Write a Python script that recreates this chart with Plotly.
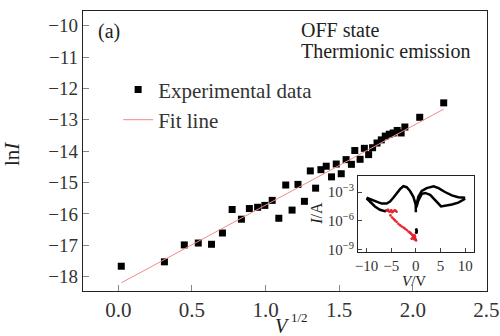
import plotly.graph_objects as go

# Main panel data: x = V^(1/2), y = ln I
exp_x = [0.02, 0.313, 0.448, 0.543, 0.633, 0.707, 0.773, 0.836, 0.89, 0.946,
         0.995, 1.045, 1.09, 1.137, 1.18, 1.22, 1.264, 1.304, 1.34, 1.376,
         1.412, 1.448, 1.48, 1.514, 1.547, 1.583, 1.606, 1.642, 1.671, 1.70,
         1.727, 1.757, 1.786, 1.813, 1.84, 1.867, 1.894, 1.921, 1.946, 2.047, 2.21]
exp_y = [-17.67, -17.53, -16.99, -16.93, -16.97, -16.61, -15.86, -16.17, -15.83, -15.79,
         -15.73, -15.57, -16.14, -15.08, -15.88, -15.06, -15.60, -14.63, -15.18, -14.59,
         -14.48, -14.82, -14.41, -14.72, -14.27, -14.42, -13.98, -14.26, -13.91, -14.11,
         -13.89, -13.74, -13.64, -13.52, -13.46, -13.42, -13.34, -13.42, -13.23, -12.92, -12.46]
fit_x = [0.02, 2.21]
fit_y = [-18.20, -12.66]
x_ticks = [0.0, 0.5, 1.0, 1.5, 2.0, 2.5]

# Inset data: V (volts), log10 I (A)
loopL_up_v = [-9.99, -8.97, -7.95, -6.94, -5.92, -5.24, -4.57, -3.89, -3.21, -2.53, -1.86, -1.18, -0.50, -0.03, 0.0]
loopL_up_l = [-3.6, -3.8, -4.0, -4.2, -4.2, -4.0, -3.6, -3.1, -2.7, -2.4, -2.5, -2.9, -3.5, -4.3, -5.1]
loopL_lo_v = [-9.99, -9.31, -8.29, -7.28, -6.26, -5.58]
loopL_lo_l = [-3.65, -4.0, -4.5, -4.85, -5.0, -4.85]
loopR_out_v = [0.1, 0.5, 1.2, 2.2, 3.6, 4.6, 5.9, 7.3, 8.6, 10.0]
loopR_out_l = [-4.4, -3.5, -2.9, -2.6, -2.4, -2.6, -3.0, -3.35, -3.55, -3.6]
loopR_ret_v = [10.0, 8.6, 7.3, 5.9, 5.1, 4.2, 2.9, 1.9, 1.2, 0.5, 0.1]
loopR_ret_l = [-3.7, -4.1, -4.3, -4.4, -4.5, -4.0, -3.3, -3.1, -3.2, -3.9, -4.6]
blk_dot_v = [0.1, 0.1, 0.15]
blk_dot_l = [-6.9, -7.2, -7.05]
red_v = [-5.9, -5.6, -5.3, -5.0, -4.6, -4.3, -3.9, -5.5, -4.8, -4.1,
         -5.14, -4.8, -4.5, -4.23, -3.9, -3.55, -3.2, -2.87, -2.5, -2.19,
         -1.85, -1.51, -1.25, -0.97, -0.75, -0.5, -0.3, -0.16, 0.04, -0.84,
         -0.6, -0.4, -0.2, -1.1, 0.0]
red_l = [-4.95, -4.85, -5.05, -4.9, -5.0, -4.9, -5.05, -5.0, -5.1, -4.95,
         -5.43, -5.65, -5.8, -5.95, -6.1, -6.30, -6.45, -6.58, -6.7, -6.82,
         -6.95, -7.10, -7.2, -7.34, -7.45, -7.58, -7.47, -7.79, -8.03, -7.86,
         -7.7, -7.9, -7.6, -7.25, -7.95]

SERIF = "Liberation Serif"

fig = go.Figure()
fig.add_trace(go.Scatter(x=exp_x, y=exp_y, mode="markers", name="Experimental data",
                         marker=dict(symbol="square", size=7, color="black")))
fig.add_trace(go.Scatter(x=fit_x, y=fit_y, mode="lines", name="Fit line",
                         line=dict(color="#f38a8a", width=1)))

ins = dict(xaxis="x2", yaxis="y2", showlegend=False)
for vv, ll in [(loopL_up_v, loopL_up_l), (loopL_lo_v, loopL_lo_l),
               (loopR_out_v, loopR_out_l), (loopR_ret_v, loopR_ret_l)]:
    fig.add_trace(go.Scatter(x=vv, y=[10 ** v for v in ll], mode="lines",
                             line=dict(color="black", width=2.5), **ins))
fig.add_trace(go.Scatter(x=blk_dot_v, y=[10 ** v for v in blk_dot_l], mode="markers",
                         marker=dict(color="black", size=3), **ins))
fig.add_trace(go.Scatter(x=red_v, y=[10 ** v for v in red_l], mode="markers",
                         marker=dict(color="#e8202a", size=2.6), **ins))

fig.update_layout(
    width=500, height=336,
    margin=dict(l=83, r=13, t=11, b=45, autoexpand=False),
    paper_bgcolor="white", plot_bgcolor="white",
    font=dict(family=SERIF, color="#222"),
    xaxis=dict(range=[-0.24, 2.504], tickvals=x_ticks, automargin=False,
               ticktext=[f"{t:.1f}" for t in x_ticks],
               ticks="inside", ticklen=6, tickcolor="#888", showgrid=False, zeroline=False,
               showline=True, linecolor="#222", linewidth=1.3, mirror=True,
               tickfont=dict(size=21, family=SERIF, color="#333")),
    yaxis=dict(range=[-18.46, -9.53], dtick=1, tick0=0, automargin=False,
               ticks="inside", ticklen=6, tickcolor="#888", showgrid=False, zeroline=False,
               showline=True, linecolor="#222", linewidth=1.3, mirror=True,
               tickfont=dict(size=19, family=SERIF, color="#333")),
    xaxis2=dict(domain=[0.681, 0.968], anchor="y2", range=[-11.7, 11.8], automargin=False,
                tickvals=[-10, -5, 0, 5, 10], ticktext=["−10", "−5", "0", "5", "10"],
                ticks="inside", ticklen=4, tickcolor="#444", showgrid=False, zeroline=False,
                showline=True, linecolor="#222", linewidth=1.2, mirror=True,
                tickfont=dict(size=15, family=SERIF, color="#333")),
    yaxis2=dict(domain=[0.139, 0.411], anchor="x2", type="log", range=[-9.24, -1.33],
                automargin=False, tickvals=[1e-3, 1e-6, 1e-9],
                ticktext=["10<sup>−3</sup>", "10<sup>−6</sup>", "10<sup>−9</sup>"],
                ticks="inside", ticklen=4, tickcolor="#444", showgrid=False, zeroline=False,
                showline=True, linecolor="#222", linewidth=1.2, mirror=True,
                tickfont=dict(size=15, family=SERIF, color="#333")),
    legend=dict(x=0.087, y=0.792, xanchor="left", yanchor="top",
                bgcolor="rgba(0,0,0,0)", font=dict(size=21, family=SERIF, color="#333"),
                tracegroupgap=0),
    showlegend=True,
)

annots = [
    dict(text="ln<i>I</i>", x=-0.175, y=0.49, textangle=-90, size=21),
    dict(text="<i>V</i>", x=0.495, y=-0.125, size=20),
    dict(text="1/2", x=0.537, y=-0.096, size=13),
    dict(text="(a)", x=0.033, y=0.925, size=20, xanchor="left"),
    dict(text="OFF state", x=0.535, y=0.932, size=20, xanchor="left"),
    dict(text="Thermionic emission", x=0.535, y=0.857, size=20, xanchor="left"),
    dict(text="<i>I</i>/A", x=0.579, y=0.279, textangle=-90, size=16),
    dict(text="<i>V</i>/V", x=0.819, y=0.036, size=15),
]
for a in annots:
    fig.add_annotation(text=a["text"], x=a["x"], y=a["y"], xref="paper", yref="paper",
                       showarrow=False, textangle=a.get("textangle", 0),
                       xanchor=a.get("xanchor", "center"), yanchor=a.get("yanchor", "middle"),
                       font=dict(size=a["size"], family=SERIF, color="#222"))

fig.write_html("out.html")
